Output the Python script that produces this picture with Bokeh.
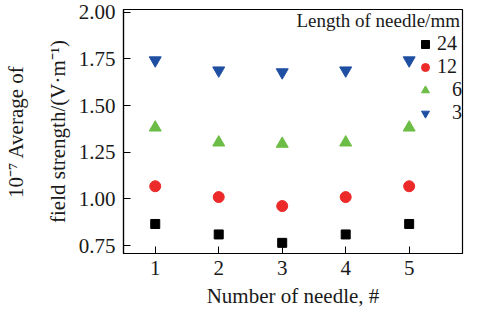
from bokeh.plotting import figure
from bokeh.models import (ColumnDataSource, Legend, LegendItem, Label, FixedTicker,
                          LinearAxis, CustomJSTickFormatter)
from bokeh.embed import file_html
from bokeh.resources import INLINE

needles = [1, 2, 3, 4, 5]
len_24 = [0.866, 0.810, 0.765, 0.810, 0.866]
len_12 = [1.068, 1.010, 0.962, 1.010, 1.068]
len_6 = [1.382, 1.302, 1.295, 1.302, 1.382]
len_3 = [1.742, 1.688, 1.678, 1.688, 1.742]
series_labels = ["24", "12", "\u2007 6", "\u2007 3"]
y_ticks = [0.75, 1.00, 1.25, 1.50, 1.75, 2.00]

FONT = "Liberation Serif"
TXT = "#1a1a1a"

p = figure(width=464, height=310, output_backend="svg", toolbar_location=None,
           x_range=(0.5, 5.84), y_range=(0.708, 2.014),
           min_border_left=123, min_border_right=2, min_border_top=9, min_border_bottom=20)
p.grid.visible = False
p.outline_line_color = "black"
p.outline_line_width = 1.2
p.background_fill_color = "white"

src = ColumnDataSource(dict(x=needles, a=len_24, b=len_12, c=len_6, d=len_3))
r1 = p.scatter("x", "a", source=src, marker="square", size=9, color="black")
r2 = p.scatter("x", "b", source=src, marker="circle", size=11, color="#ec2a2a")
r3 = p.scatter("x", "c", source=src, marker="triangle", size=12, color="#6cbd45")
r4 = p.scatter("x", "d", source=src, marker="inverted_triangle", size=12, color="#1f4fa3")

def style(ax):
    ax.axis_line_color = "black"
    ax.axis_line_width = 1.2
    ax.major_tick_in = 7
    ax.major_tick_out = 0
    ax.minor_tick_line_color = None
    ax.major_label_text_font = FONT
    ax.major_label_text_font_size = "21px"
    ax.major_label_text_color = TXT
    ax.axis_label_text_font = FONT
    ax.axis_label_text_font_size = "21px"
    ax.axis_label_text_font_style = "normal"
    ax.axis_label_text_color = TXT

style(p.xaxis[0])
style(p.yaxis[0])

p.xaxis.ticker = FixedTicker(ticks=needles)
p.yaxis.ticker = FixedTicker(ticks=y_ticks)
p.yaxis.formatter = CustomJSTickFormatter(code="return tick.toFixed(2);")
p.xaxis.axis_label = "Number of needle, #"
p.xaxis.major_label_standoff = 7
p.xaxis.axis_label_standoff = 6
p.yaxis.axis_label = "field strength/(V\u00b7m\u207b\u00b9)"
p.yaxis.major_label_standoff = 8
p.yaxis.axis_label_standoff = 6

outer = LinearAxis(axis_label="10\u207b\u2077 Average of", ticker=FixedTicker(ticks=[]))
style(outer)
outer.axis_line_color = None
outer.major_tick_line_color = None
outer.axis_label_standoff = 15
p.add_layout(outer, "left")

title = Label(x=5.80, y=1.955, text="Length of needle/mm", text_align="right",
              text_baseline="middle", text_font=FONT, text_font_size="19px",
              text_color=TXT)
p.add_layout(title)

legend = Legend(items=[LegendItem(label=series_labels[i], renderers=[r])
                       for i, r in enumerate([r1, r2, r3, r4])],
                location=(290, 129), border_line_color=None, background_fill_alpha=0,
                label_text_font=FONT, label_text_font_size="20px", label_text_color=TXT,
                glyph_width=24, glyph_height=20, label_height=20, label_standoff=0,
                spacing=-1, padding=2, margin=0)
p.add_layout(legend)

open("out.html", "w").write(file_html(p, INLINE))
